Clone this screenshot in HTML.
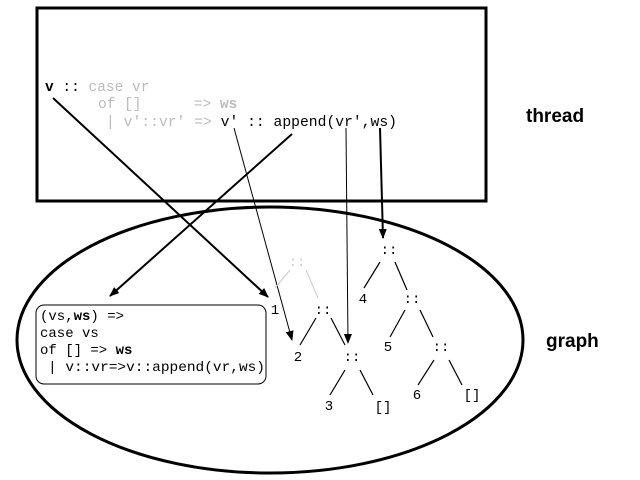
<!DOCTYPE html>
<html><head><style>body{margin:0;background:#fff}svg{display:block}
.m{font-family:"Liberation Mono","DejaVu Sans Mono",monospace}
.s{font-family:"Liberation Sans",sans-serif;font-weight:bold;font-size:19px}</style></head>
<body>
<svg width="640" height="480" viewBox="0 0 640 480" xmlns="http://www.w3.org/2000/svg">
<defs>
<marker id="a" markerWidth="10" markerHeight="8" refX="9" refY="4" orient="auto" markerUnits="userSpaceOnUse"><path d="M0,0 L10,4 L0,8 z" fill="#000"/></marker>
</defs>
<rect x="37" y="8" width="449" height="193" fill="none" stroke="#000" stroke-width="3"/>
<ellipse cx="270" cy="340" rx="253" ry="133" fill="none" stroke="#000" stroke-width="3"/>
<g class="m" font-size="14.5">
<text x="45" y="91" fill="#000"><tspan font-weight="bold">v</tspan> ::<tspan fill="#bbb"> case vr</tspan></text>
<text x="98" y="108" fill="#bbb">of []&#160;&#160;&#160;&#160;&#160; =&gt; <tspan font-weight="bold">ws</tspan></text>
<text x="106" y="126" fill="#bbb" textLength="291" lengthAdjust="spacingAndGlyphs">| v'::vr' =&gt; <tspan fill="#000">v' :: append(vr',ws)</tspan></text>
</g>
<g stroke="#000" fill="none">
<line x1="53" y1="98" x2="268" y2="297" stroke-width="2" marker-end="url(#a)"/>
<line x1="292" y1="134" x2="110" y2="296" stroke-width="2" marker-end="url(#a)"/>
<line x1="234" y1="128" x2="292" y2="340" stroke-width="1" marker-end="url(#a)"/>
<line x1="346" y1="128" x2="348" y2="343" stroke-width="1" marker-end="url(#a)"/>
<line x1="380" y1="128" x2="383" y2="238" stroke-width="2" marker-end="url(#a)"/>
</g>
<g stroke="#ccc" stroke-width="1">
<line x1="290" y1="270" x2="275" y2="288"/><line x1="306" y1="270" x2="318" y2="298"/>
</g>
<g stroke="#000" stroke-width="1.2">
<line x1="316" y1="318" x2="300" y2="345"/><line x1="331" y1="318" x2="345" y2="345"/>
<line x1="345" y1="370" x2="330" y2="395"/><line x1="360" y1="370" x2="373" y2="395"/>
<line x1="380" y1="262" x2="364" y2="288"/><line x1="395" y1="262" x2="407" y2="290"/>
<line x1="405" y1="310" x2="390" y2="337"/><line x1="420" y1="310" x2="433" y2="337"/>
<line x1="434" y1="360" x2="418" y2="385"/><line x1="449" y1="360" x2="462" y2="385"/>
</g>
<g class="m" font-size="14" fill="#000" text-anchor="middle">
<text x="297" y="266" fill="#ccc">::</text>
<text x="323" y="314">::</text>
<text x="275" y="314">1</text>
<text x="298" y="361">2</text>
<text x="352" y="361">::</text>
<text x="329" y="410">3</text>
<text x="383" y="411">[]</text>
<text x="389" y="254">::</text>
<text x="363" y="303">4</text>
<text x="412" y="303">::</text>
<text x="388" y="351">5</text>
<text x="441" y="351">::</text>
<text x="417" y="399">6</text>
<text x="472" y="399">[]</text>
</g>
<rect x="36" y="305" width="230" height="79" rx="8" fill="none" stroke="#000" stroke-width="1"/>
<g class="m" font-size="14" fill="#000">
<text x="40" y="320">(vs,<tspan font-weight="bold">ws</tspan>) =&gt;</text>
<text x="40" y="337">case vs</text>
<text x="40" y="354">of [] =&gt; <tspan font-weight="bold">ws</tspan></text>
<text x="48" y="371" textLength="217" lengthAdjust="spacingAndGlyphs">| v::vr=&gt;v::append(vr,ws)</text>
</g>
<text class="s" x="526" y="122">thread</text>
<text class="s" x="546" y="347">graph</text>
</svg>
</body></html>
